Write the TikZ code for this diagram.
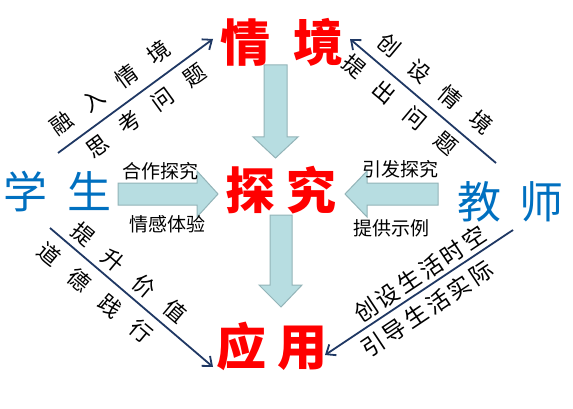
\documentclass[tikz,border=0pt]{standalone}
\usepackage{fontspec}
\setmainfont{Noto Sans CJK SC}
\usetikzlibrary{arrows.meta}
\definecolor{arrowfill}{RGB}{183,221,225}
\definecolor{arrowedge}{RGB}{147,180,184}
\definecolor{navy}{RGB}{31,56,100}
\definecolor{titlered}{RGB}{255,0,0}
\definecolor{roleblue}{RGB}{0,112,192}
\tikzset{
  bigword/.style={inner sep=0pt, text=titlered, font=\fontsize{50pt}{50pt}\selectfont\bfseries},
  roleword/.style={inner sep=0pt, text=roleblue, font=\fontsize{44pt}{44pt}\selectfont},
  smalllabel/.style={inner sep=0pt, text=black, font=\fontsize{19pt}{19pt}\selectfont},
  slantlabel/.style={inner sep=0pt, text=black, font=\fontsize{22pt}{22pt}\selectfont},
  denselabel/.style={inner sep=0pt, text=black, font=\fontsize{23pt}{23pt}\selectfont},
  blockarrow/.style={fill=arrowfill, draw=arrowedge, line width=1pt, line join=miter},
  thinarrow/.style={draw=navy, line width=1.8pt, -{Straight Barb[length=8pt,width=13pt,line width=1.8pt]}}
}
\newcommand{\cgap}{\hspace{18pt}}
\begin{document}
\begin{tikzpicture}[x=1pt,y=-1pt]
\useasboundingbox (0,0) rectangle (573,409);
\fill[white] (0,0) rectangle (573,409);

% block arrows
\path[blockarrow] (264,65) -- (287,65) -- (287,137) -- (298,137) -- (275.5,158) -- (253,137) -- (264,137) -- cycle;
\path[blockarrow] (270,215) -- (292,215) -- (292,285) -- (302,285) -- (281,307) -- (259,285) -- (270,285) -- cycle;
\path[blockarrow] (118,183) -- (197,183) -- (197,171) -- (218,194) -- (197,217) -- (197,205) -- (118,205) -- cycle;
\path[blockarrow] (438,183) -- (367,183) -- (367,171) -- (345,194) -- (367,217) -- (367,205) -- (438,205) -- cycle;

% main words
\node[bigword] (qj) at (281.5,42) {情\hspace{23pt}境};
\node[bigword] (tj) at (280.5,190) {探\hspace{11pt}究};
\node[bigword] (yy) at (271.5,346) {应\hspace{11pt}用};
\node[roleword] (xs) at (57.5,192) {学\hspace{21pt}生};
\node[roleword] (js) at (510.5,202) {教\hspace{19pt}师};

% small labels on block arrows
\node[smalllabel] (l1) at (160,171) {合作探究};
\node[smalllabel] (l2) at (167,224) {情感体验};
\node[smalllabel] (l3) at (400,169) {引发探究};
\node[smalllabel] (l4) at (391,228) {提供示例};

% thin arrows
\coordinate (a1s) at (58,153);  \coordinate (a1e) at (213,39);
\coordinate (a2s) at (496,163); \coordinate (a2e) at (350,39);
\coordinate (a3s) at (50,228);  \coordinate (a3e) at (213,367);
\coordinate (a4s) at (513,230); \coordinate (a4e) at (325,355);
\draw[thinarrow] (a1s) -- (a1e);
\draw[thinarrow] (a2s) -- (a2e);
\draw[thinarrow] (a3s) -- (a3e);
\draw[thinarrow] (a4s) -- (a4e);

% slanted labels
\node[slantlabel, rotate=36] (s1) at (110,88) {融\cgap 入\cgap 情\cgap 境};
\node[slantlabel, rotate=36] (s2) at (146,111) {思\cgap 考\cgap 问\cgap 题};
\node[slantlabel, rotate=-40] (s3) at (435,84) {创\cgap 设\cgap 情\cgap 境};
\node[slantlabel, rotate=-40] (s4) at (400,105) {提\cgap 出\cgap 问\cgap 题};
\node[slantlabel, rotate=-40] (s5) at (129,273) {提\cgap 升\cgap 价\cgap 值};
\node[slantlabel, rotate=-40] (s6) at (95,293) {道\cgap 德\cgap 践\cgap 行};
\node[denselabel, rotate=33.6] (s7) at (420,274) {创\hspace{3pt}设\hspace{3pt}生\hspace{3pt}活\hspace{3pt}时\hspace{3pt}空};
\node[denselabel, rotate=33.6] (s8) at (427,309) {引\hspace{3pt}导\hspace{3pt}生\hspace{3pt}活\hspace{3pt}实\hspace{3pt}际};
\end{tikzpicture}
\end{document}
